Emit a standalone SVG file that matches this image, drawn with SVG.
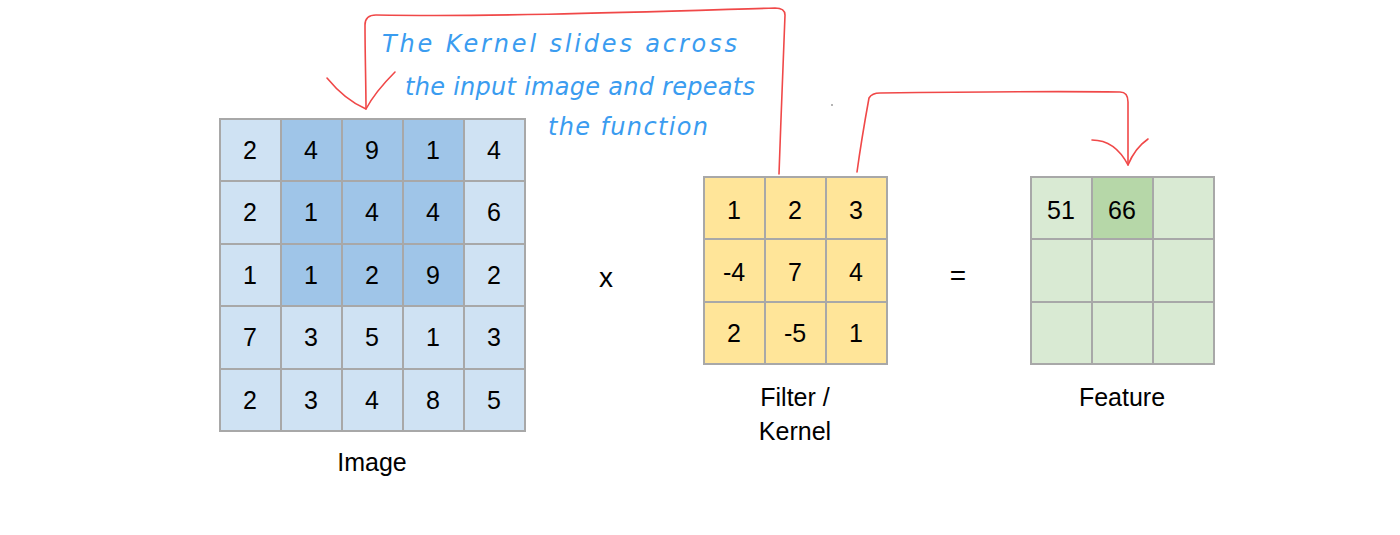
<svg xmlns="http://www.w3.org/2000/svg" width="1400" height="535" viewBox="0 0 1400 535">
<style>
.c{stroke:#a8a8a8;stroke-width:2}
.lb{fill:#cfe2f3}.db{fill:#9fc5e8}.y{fill:#ffe599}.lg{fill:#d9ead3}.dg{fill:#b6d7a8}
text{font-family:"Liberation Sans",Arial,sans-serif;fill:#000}
.n{font-size:25px;text-anchor:middle}
.l{font-size:25px;text-anchor:middle}
.h{font-family:"DejaVu Sans",sans-serif;font-size:24px;fill:#3a9cf0;font-weight:200;font-style:italic}
.r{fill:none;stroke:#f04848;stroke-width:1.6;stroke-linecap:round;stroke-linejoin:round}
</style>
<rect width="1400" height="535" fill="#fff"/>
<g id="image">
<g class="c">
<rect class="lb" x="220" y="119" width="61" height="62"/><rect class="db" x="281" y="119" width="61" height="62"/><rect class="db" x="342" y="119" width="61" height="62"/><rect class="db" x="403" y="119" width="61" height="62"/><rect class="lb" x="464" y="119" width="61" height="62"/>
<rect class="lb" x="220" y="181" width="61" height="63"/><rect class="db" x="281" y="181" width="61" height="63"/><rect class="db" x="342" y="181" width="61" height="63"/><rect class="db" x="403" y="181" width="61" height="63"/><rect class="lb" x="464" y="181" width="61" height="63"/>
<rect class="lb" x="220" y="244" width="61" height="62"/><rect class="db" x="281" y="244" width="61" height="62"/><rect class="db" x="342" y="244" width="61" height="62"/><rect class="db" x="403" y="244" width="61" height="62"/><rect class="lb" x="464" y="244" width="61" height="62"/>
<rect class="lb" x="220" y="306" width="61" height="63"/><rect class="lb" x="281" y="306" width="61" height="63"/><rect class="lb" x="342" y="306" width="61" height="63"/><rect class="lb" x="403" y="306" width="61" height="63"/><rect class="lb" x="464" y="306" width="61" height="63"/>
<rect class="lb" x="220" y="369" width="61" height="62"/><rect class="lb" x="281" y="369" width="61" height="62"/><rect class="lb" x="342" y="369" width="61" height="62"/><rect class="lb" x="403" y="369" width="61" height="62"/><rect class="lb" x="464" y="369" width="61" height="62"/>
</g>
<text class="n" x="250" y="159">2</text><text class="n" x="311" y="159">4</text><text class="n" x="372" y="159">9</text><text class="n" x="433" y="159">1</text><text class="n" x="494" y="159">4</text>
<text class="n" x="250" y="221">2</text><text class="n" x="311" y="221">1</text><text class="n" x="372" y="221">4</text><text class="n" x="433" y="221">4</text><text class="n" x="494" y="221">6</text>
<text class="n" x="250" y="284">1</text><text class="n" x="311" y="284">1</text><text class="n" x="372" y="284">2</text><text class="n" x="433" y="284">9</text><text class="n" x="494" y="284">2</text>
<text class="n" x="250" y="346">7</text><text class="n" x="311" y="346">3</text><text class="n" x="372" y="346">5</text><text class="n" x="433" y="346">1</text><text class="n" x="494" y="346">3</text>
<text class="n" x="250" y="409">2</text><text class="n" x="311" y="409">3</text><text class="n" x="372" y="409">4</text><text class="n" x="433" y="409">8</text><text class="n" x="494" y="409">5</text>
<text class="l" x="372" y="471">Image</text>
</g>
<text id="times" class="l" x="606" y="287" style="font-size:28px">x</text>
<g id="kernel">
<g class="c y">
<rect x="704" y="177" width="61" height="62"/><rect x="765" y="177" width="61" height="62"/><rect x="826" y="177" width="61" height="62"/>
<rect x="704" y="239" width="61" height="63"/><rect x="765" y="239" width="61" height="63"/><rect x="826" y="239" width="61" height="63"/>
<rect x="704" y="302" width="61" height="62"/><rect x="765" y="302" width="61" height="62"/><rect x="826" y="302" width="61" height="62"/>
</g>
<text class="n" x="734" y="219">1</text><text class="n" x="795" y="219">2</text><text class="n" x="856" y="219">3</text>
<text class="n" x="734" y="281">-4</text><text class="n" x="795" y="281">7</text><text class="n" x="856" y="281">4</text>
<text class="n" x="734" y="342">2</text><text class="n" x="795" y="342">-5</text><text class="n" x="856" y="342">1</text>
<text class="l" x="795" y="406">Filter /</text>
<text class="l" x="795" y="440">Kernel</text>
</g>
<text id="equals" class="l" x="958" y="285" style="font-size:28px">=</text>
<g id="feature">
<g class="c">
<rect class="lg" x="1031" y="177" width="61" height="62"/><rect class="dg" x="1092" y="177" width="61" height="62"/><rect class="lg" x="1153" y="177" width="61" height="62"/>
<rect class="lg" x="1031" y="239" width="61" height="63"/><rect class="lg" x="1092" y="239" width="61" height="63"/><rect class="lg" x="1153" y="239" width="61" height="63"/>
<rect class="lg" x="1031" y="302" width="61" height="62"/><rect class="lg" x="1092" y="302" width="61" height="62"/><rect class="lg" x="1153" y="302" width="61" height="62"/>
</g>
<text class="n" x="1061" y="219">51</text><text class="n" x="1122" y="219">66</text>
<text class="l" x="1122" y="406">Feature</text>
</g>
<g id="annotation">
<text class="h" x="382" y="52" textLength="355" lengthAdjust="spacing">The  Kernel  slides across</text>
<text class="h" x="405" y="95" textLength="350" lengthAdjust="spacing">the  input  image  and  repeats</text>
<text class="h" x="548" y="135" textLength="160" lengthAdjust="spacing">the  function</text>
<circle cx="832" cy="105" r="0.8" fill="#555"/>
</g>
<g id="connectors">
<path class="r" d="M779,174 C781,120 783,60 785,15 Q785,8 775,8 C640,12 500,17 376,15 Q365,15 365,25 C365,55 366,85 366,109"/>
<path class="r" d="M327,78 Q345,100 366,109 Q375,92 395,72"/>
<path class="r" d="M857,172 C860,150 865,120 869,98 Q872,93 880,93 C960,92 1050,91 1120,92 Q1128,92 1128,102 L1128,165"/>
<path class="r" d="M1092,140 Q1115,140 1128,165 Q1135,148 1148,139"/>
</g>
</svg>
